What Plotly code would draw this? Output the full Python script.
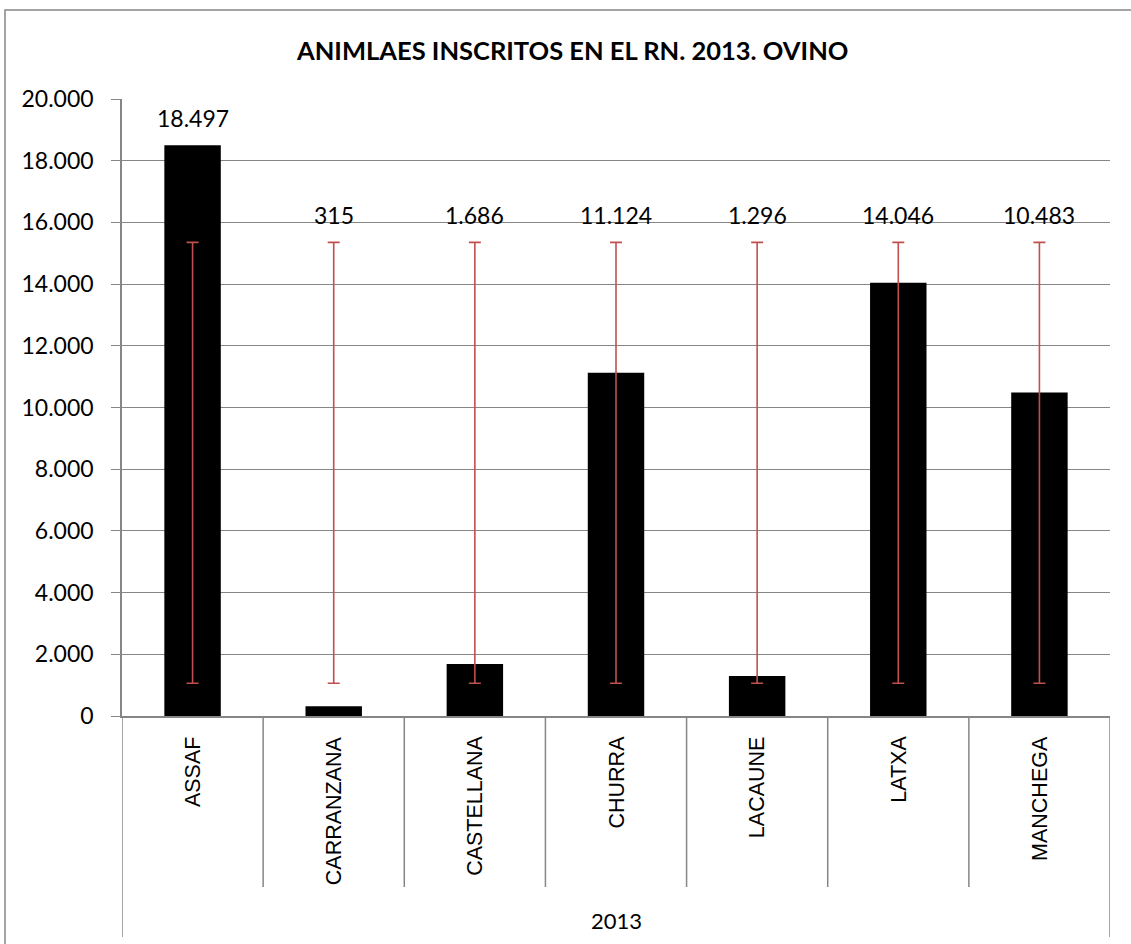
import numpy as np
import plotly.graph_objects as go

# ---- data ----
categories = ["ASSAF", "CARRANZANA", "CASTELLANA", "CHURRA", "LACAUNE", "LATXA", "MANCHEGA"]
values = [18497, 315, 1686, 11124, 1296, 14046, 10483]
group_label = "2013"
title_text = "ANIMLAES INSCRITOS EN EL RN. 2013. OVINO"
y_ticks = [0, 2000, 4000, 6000, 8000, 10000, 12000, 14000, 16000, 18000, 20000]

# Excel "standard deviation" error bars: centred on the series mean, +/- 1 sample SD
err_center = float(np.mean(values))
err_half = float(np.std(values, ddof=1))

def fmt(v):
    return f"{v:,}".replace(",", ".")

W, H = 1131, 944
L, R, T, B = 122, 21, 99, 228
plot_h = H - T - B
plot_w = W - L - R

def py(pix):  # pixel y -> paper y
    return (H - B - pix) / plot_h

def px(pix):  # pixel x -> paper x
    return (pix - L) / plot_w

GRID = "#868686"
FONT = "Lato, Calibri, sans-serif"
fig = go.Figure()
fig.add_trace(go.Bar(x=categories, y=values, marker=dict(color="black", line=dict(width=0)),
                     width=0.4, showlegend=False, hoverinfo="x+y"))
fig.add_trace(go.Scatter(x=categories, y=[err_center] * len(categories), mode="markers",
                         marker=dict(size=1, opacity=0), showlegend=False, hoverinfo="skip",
                         error_y=dict(type="constant", value=err_half, color="#C0504D",
                                      thickness=1.6, width=6)))

# data labels
for c, v in zip(categories, values):
    top = max(v, err_center + err_half)
    fig.add_annotation(x=c, y=top, xref="x", yref="y", text=fmt(v), showarrow=False,
                       yanchor="bottom", yshift=11,
                       font=dict(family=FONT, size=23, color="black"))

# category labels (rotated)
for c in categories:
    fig.add_annotation(x=c, y=0, xref="x", yref="paper", text=c, showarrow=False,
                       textangle=-90, yanchor="top", yshift=-18,
                       font=dict(family="Liberation Sans, Arial, sans-serif", size=21.5, color="black"))

# group label
fig.add_annotation(x=(len(categories) - 1) / 2, y=py(920), xref="x", yref="paper", text=group_label,
                   showarrow=False, yanchor="middle",
                   font=dict(family=FONT, size=22, color="black"))

# title
fig.add_annotation(x=px(572), y=py(50), xref="paper", yref="paper", text=f"<b>{title_text}</b>",
                   showarrow=False, yanchor="middle", xanchor="center",
                   font=dict(family=FONT, size=25.5, color="black"))

# category dividers
n = len(categories)
for k in range(n + 1):
    xpos = k - 0.5
    outer = k == 0 or k == n
    fig.add_shape(type="line", xref="x", yref="paper", x0=xpos, x1=xpos, y0=0,
                  y1=py(937) if outer else py(887), line=dict(color=GRID, width=1.5))

# outer chart border
fig.add_shape(type="rect", xref="paper", yref="paper", x0=px(5), x1=px(1140), y0=py(960), y1=py(10),
              line=dict(color=GRID, width=1.5), fillcolor="rgba(0,0,0,0)", layer="below")

fig.update_layout(
    width=W, height=H, margin=dict(l=L, r=R, t=T, b=B),
    paper_bgcolor="white", plot_bgcolor="white",
    separators=",.",
    bargap=0.6,
    xaxis=dict(showticklabels=False, showgrid=False, showline=True, linecolor=GRID, linewidth=1.5,
               ticks="", range=[-0.5, n - 0.5], zeroline=False),
    yaxis=dict(range=[0, 20000], tickvals=y_ticks, ticktext=[fmt(t) for t in y_ticks],
               showgrid=True, gridcolor=GRID, gridwidth=1.3, showline=True, linecolor=GRID,
               linewidth=1.5, ticks="outside", ticklen=9, tickcolor=GRID, tickwidth=1.3,
               ticklabelstandoff=13, zeroline=False,
               tickfont=dict(family=FONT, size=23, color="black")),
)

fig.write_html("out.html", config={"displayModeBar": False},
               post_script="document.body.style.margin='0';document.body.style.overflow='hidden';")
